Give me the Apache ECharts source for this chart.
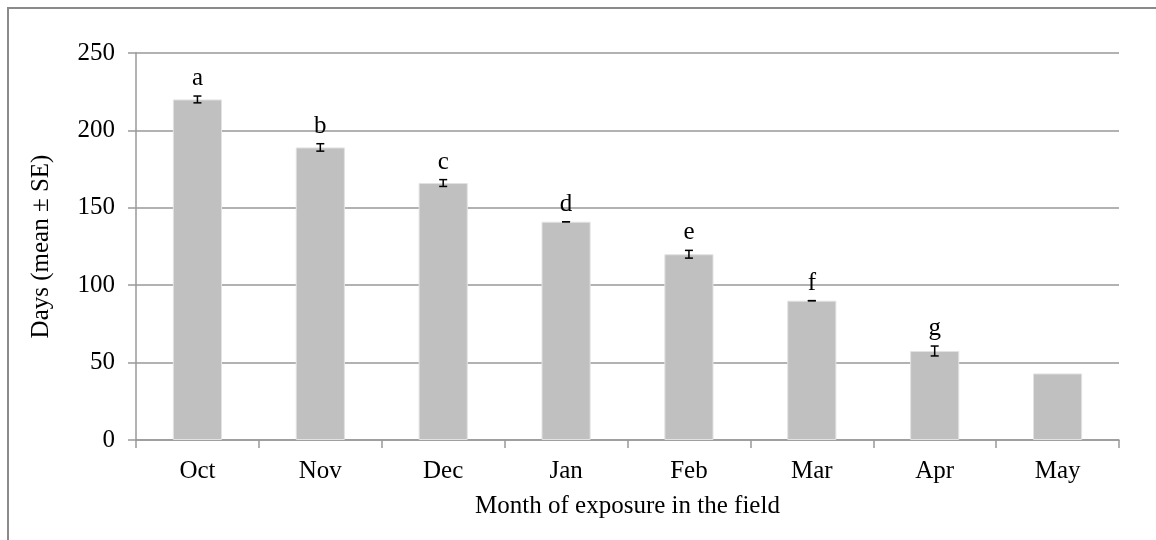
<!DOCTYPE html>
<html>
<head>
<meta charset="utf-8">
<script src="https://cdn.jsdelivr.net/npm/echarts@6/dist/echarts.min.js"></script>
<style>
  html, body { margin: 0; padding: 0; background: #fff; }
  #wrap { position: relative; width: 1156px; height: 540px; }
  #chart { position: absolute; left: 0; top: 0; width: 1156px; height: 540px; }
  #frame {
    position: absolute; left: 7px; top: 7px; right: 0; bottom: 0;
    border-top: 2px solid #8a8a8a; border-left: 2px solid #8a8a8a;
    pointer-events: none;
  }
</style>
</head>
<body>
<div id="wrap">
  <div id="chart"></div>
  <div id="frame"></div>
</div>
<script>
const months = ['Oct', 'Nov', 'Dec', 'Jan', 'Feb', 'Mar', 'Apr', 'May'];
const meanDays = [220, 189, 166, 141, 120, 90, 57.5, 43];
const seDays = [2.2, 2.4, 2.2, 0, 2.5, 0, 3.2, null];
const letters = ['a', 'b', 'c', 'd', 'e', 'f', 'g', ''];

const font = '"Liberation Serif", "Times New Roman", serif';
const gray = '#999999';

const chart = echarts.init(document.getElementById('chart'));

const option = {
  animation: false,
  backgroundColor: '#fff',
  grid: { left: 136, right: 37, top: 53, bottom: 100 },
  xAxis: {
    type: 'category',
    data: months,
    name: 'Month of exposure in the field',
    nameLocation: 'middle',
    nameGap: 54,
    nameTextStyle: { fontFamily: font, fontSize: 25, color: '#000' },
    axisLine: { lineStyle: { color: gray, width: 1.5 } },
    axisTick: { show: true, length: 8, interval: 0, lineStyle: { color: gray, width: 1.5 } },
    axisLabel: { fontFamily: font, fontSize: 25, color: '#000', margin: 19, interval: 0 }
  },
  yAxis: {
    type: 'value',
    min: 0,
    max: 250,
    interval: 50,
    name: 'Days (mean ± SE)',
    nameLocation: 'middle',
    nameGap: 82,
    nameTextStyle: { fontFamily: font, fontSize: 25, color: '#000' },
    axisLine: { show: true, lineStyle: { color: gray, width: 1.5 } },
    axisTick: { show: true, length: 8, lineStyle: { color: gray, width: 1.5 } },
    axisLabel: { fontFamily: font, fontSize: 25, color: '#000', margin: 21 },
    splitLine: { lineStyle: { color: gray, width: 1.5 } }
  },
  series: [
    {
      type: 'bar',
      data: meanDays,
      barWidth: '40%',
      itemStyle: { color: '#c0c0c0', borderColor: '#e2e2e2', borderWidth: 1 }
    },
    {
      type: 'custom',
      data: months.map((m, i) => [i, meanDays[i], seDays[i] == null ? 0 : seDays[i]]),
      encode: { x: 0, y: 1 },
      z: 5,
      renderItem: function (params, api) {
        const i = params.dataIndex;
        const mean = api.value(1);
        const se = api.value(2);
        const top = api.coord([api.value(0), mean + se]);
        const bot = api.coord([api.value(0), mean - se]);
        const children = [];
        const lineStyle = { stroke: '#000', lineWidth: 1.5 };
        if (seDays[i] != null) {
          const hw = 4;
          children.push(
            { type: 'line', shape: { x1: top[0], y1: top[1], x2: bot[0], y2: bot[1] }, style: lineStyle },
            { type: 'line', shape: { x1: top[0] - hw, y1: top[1], x2: top[0] + hw, y2: top[1] }, style: lineStyle },
            { type: 'line', shape: { x1: bot[0] - hw, y1: bot[1], x2: bot[0] + hw, y2: bot[1] }, style: lineStyle }
          );
        }
        if (letters[i]) {
          children.push({
            type: 'text',
            x: top[0],
            y: top[1] - 5,
            style: {
              text: letters[i],
              fill: '#000',
              font: '25px ' + font,
              textAlign: 'center',
              textVerticalAlign: 'bottom'
            }
          });
        }
        return { type: 'group', children: children };
      }
    }
  ]
};

chart.setOption(option);
</script>
</body>
</html>
